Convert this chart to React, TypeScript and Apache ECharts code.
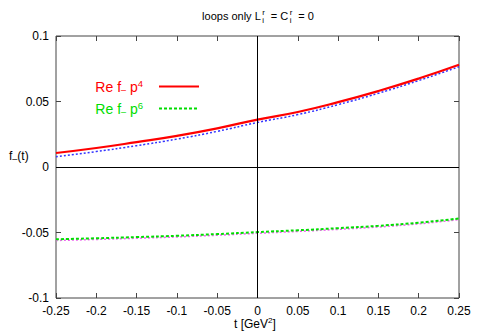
import React, { useEffect, useRef } from "react";
import * as echarts from "echarts";

const tValues = [-0.25, -0.2, -0.15, -0.1, -0.05, 0, 0.05, 0.1, 0.15, 0.2, 0.25];
const reP4 = [0.0107, 0.0145, 0.019, 0.0238, 0.0295, 0.0362, 0.042, 0.0495, 0.058, 0.0675, 0.078];
const reP4Blue = [0.0079, 0.0118, 0.0163, 0.0213, 0.0272, 0.034, 0.04, 0.0476, 0.0563, 0.066, 0.0765];
const reP6 = [-0.0552, -0.0544, -0.0535, -0.0525, -0.0512, -0.0497, -0.0483, -0.0467, -0.0449, -0.0425, -0.0393];
const reP6Mag = [-0.0561, -0.0553, -0.0544, -0.0534, -0.0521, -0.0506, -0.0492, -0.0476, -0.0458, -0.0434, -0.0402];

const titleParts = ["loops only L", " = C", " = 0"];
const legendNames = ["Re f\u208B p\u2074", "Re f\u208B p\u2076"];
const legendRich = ["Re f{sub|\u2013} p{sup|4}{gap| }", "Re f{sub|\u2013} p{sup|6}{gap| }"];

const FONT = "Liberation Sans, Arial, Helvetica, sans-serif";

function pairs(xs: number[], ys: number[]) {
  return xs.map((x, i) => [x, ys[i]]);
}

function fmt(v: number) {
  const r = Math.round(v * 1000) / 1000;
  return String(r);
}

function measure(text: string, size: number) {
  const c = document.createElement("canvas").getContext("2d");
  if (!c) return text.length * size * 0.55;
  c.font = `${size}px ${FONT}`;
  return c.measureText(text).width;
}

export default function App() {
  const ref = useRef<HTMLDivElement>(null);
  useEffect(() => {
    if (!ref.current) return;
    const chart = echarts.init(ref.current, undefined, { renderer: "svg" });
    const tick = { show: true, inside: true, length: 5, lineStyle: { color: "#444", width: 1 } };
    const hiddenLine = { show: false, onZero: false };

    const TS = 11;
    const SS = 8;
    const w0 = measure(titleParts[0], TS);
    const w1 = measure(titleParts[1], TS);
    const w2 = measure(titleParts[2], TS);
    const ws = 7;
    const total = w0 + ws + w1 + ws + w2;
    const x0 = 258 - total / 2;
    const base = 21;
    const titleEls: any[] = [];
    let x = x0;
    const mainText = (t: string, xx: number) => ({
      type: "text",
      x: xx,
      y: base,
      style: { text: t, fontFamily: FONT, fontSize: TS, fill: "#000", verticalAlign: "bottom" },
    });
    const small = (t: string, xx: number, yy: number) => ({
      type: "text",
      x: xx,
      y: yy,
      style: { text: t, fontFamily: FONT, fontSize: SS, fill: "#000", verticalAlign: "bottom" },
    });
    titleEls.push(mainText(titleParts[0], x));
    x += w0;
    titleEls.push(small("r", x + 1.5, base - 5));
    titleEls.push(small("i", x + 1.5, base + 3));
    x += ws;
    titleEls.push(mainText(titleParts[1], x));
    x += w1;
    titleEls.push(small("r", x + 1.5, base - 5));
    titleEls.push(small("i", x + 1.5, base + 3));
    x += ws;
    titleEls.push(mainText(titleParts[2], x));

    const subSup = (color?: string) => ({
      sub: { fontSize: 9, padding: [6, 0, 0, 0], fontFamily: FONT, ...(color ? { color } : {}) },
      sup: { fontSize: 9.5, padding: [0, 0, 7, 0], fontFamily: FONT, ...(color ? { color } : {}) },
      gap: { width: 11, fontSize: 9 },
    });

    chart.setOption({
      animation: false,
      backgroundColor: "#fff",
      textStyle: { fontFamily: FONT },
      grid: {
        left: 56,
        right: 20,
        top: 36,
        bottom: 37,
        show: true,
        borderColor: "#444",
        borderWidth: 1,
        backgroundColor: "transparent",
      },
      graphic: [
        ...titleEls,
        {
          type: "text",
          left: 9,
          top: 150,
          style: {
            text: "f{sub|\u2013}(t)",
            fontFamily: FONT,
            fontSize: 12,
            fill: "#000",
            rich: subSup("#000"),
          },
        },
        {
          type: "text",
          left: 234,
          top: 316,
          style: {
            text: "t [GeV{sup|2}]",
            fontFamily: FONT,
            fontSize: 12,
            fill: "#000",
            rich: { sup: { fontSize: 8, padding: [0, 0, 7, 0], fontFamily: FONT } },
          },
        },
      ],
      legend: {
        show: true,
        orient: "vertical",
        align: "right",
        right: 279,
        top: 78,
        padding: 0,
        itemWidth: 40,
        itemHeight: 12,
        itemGap: 6,
        selectedMode: false,
        itemStyle: { opacity: 0 },
        formatter: (name: string) => legendRich[legendNames.indexOf(name)] ?? name,
        textStyle: { fontFamily: FONT, fontSize: 14 },
        data: [
          { name: legendNames[0], textStyle: { color: "#ff0000", rich: subSup("#ff0000") } },
          { name: legendNames[1], textStyle: { color: "#00dd00", rich: subSup("#00dd00") } },
        ],
      },
      xAxis: [
        {
          type: "value",
          min: -0.25,
          max: 0.25,
          interval: 0.05,
          axisLine: hiddenLine,
          axisTick: tick,
          splitLine: { show: false },
          axisLabel: {
            formatter: (v: number) => fmt(v),
            color: "#000",
            fontSize: 12,
            margin: 7,
            fontFamily: FONT,
            showMinLabel: true,
            showMaxLabel: true,
          },
        },
        {
          type: "value",
          position: "top",
          min: -0.25,
          max: 0.25,
          interval: 0.05,
          axisLine: hiddenLine,
          axisTick: tick,
          splitLine: { show: false },
          axisLabel: { show: false },
        },
      ],
      yAxis: [
        {
          type: "value",
          min: -0.1,
          max: 0.1,
          interval: 0.05,
          axisLine: hiddenLine,
          axisTick: tick,
          splitLine: { show: false },
          axisLabel: {
            formatter: (v: number) => fmt(v),
            color: "#000",
            fontSize: 12,
            margin: 7,
            fontFamily: FONT,
          },
        },
        {
          type: "value",
          position: "right",
          min: -0.1,
          max: 0.1,
          interval: 0.05,
          axisLine: hiddenLine,
          axisTick: tick,
          splitLine: { show: false },
          axisLabel: { show: false },
        },
      ],
      series: [
        {
          name: "zero",
          type: "line",
          data: [],
          silent: true,
          markLine: {
            silent: true,
            symbol: "none",
            label: { show: false },
            lineStyle: { color: "#000", type: "solid", width: 1 },
            data: [{ yAxis: 0 }, { xAxis: 0 }],
          },
        },
        {
          name: "blue",
          type: "line",
          smooth: true,
          showSymbol: false,
          data: pairs(tValues, reP4Blue),
          lineStyle: { color: "#3333ff", width: 1.5, type: [2, 2] },
          itemStyle: { color: "#3333ff" },
        },
        {
          name: legendNames[0],
          type: "line",
          smooth: true,
          showSymbol: false,
          data: pairs(tValues, reP4),
          lineStyle: { color: "#ff0000", width: 2.2 },
          itemStyle: { color: "#ff0000" },
        },
        {
          name: "magenta",
          type: "line",
          smooth: true,
          showSymbol: false,
          data: pairs(tValues, reP6Mag),
          lineStyle: { color: "#ee66ee", width: 1.5, type: [2, 2] },
          itemStyle: { color: "#ee66ee" },
        },
        {
          name: legendNames[1],
          type: "line",
          smooth: true,
          showSymbol: false,
          data: pairs(tValues, reP6),
          lineStyle: { color: "#00dd00", width: 2, type: [3, 2] },
          itemStyle: { color: "#00dd00" },
        },
      ],
    });
    return () => chart.dispose();
  }, []);
  return <div ref={ref} style={{ position: "absolute", left: 0, top: 0, width: 479, height: 335 }} />;
}
